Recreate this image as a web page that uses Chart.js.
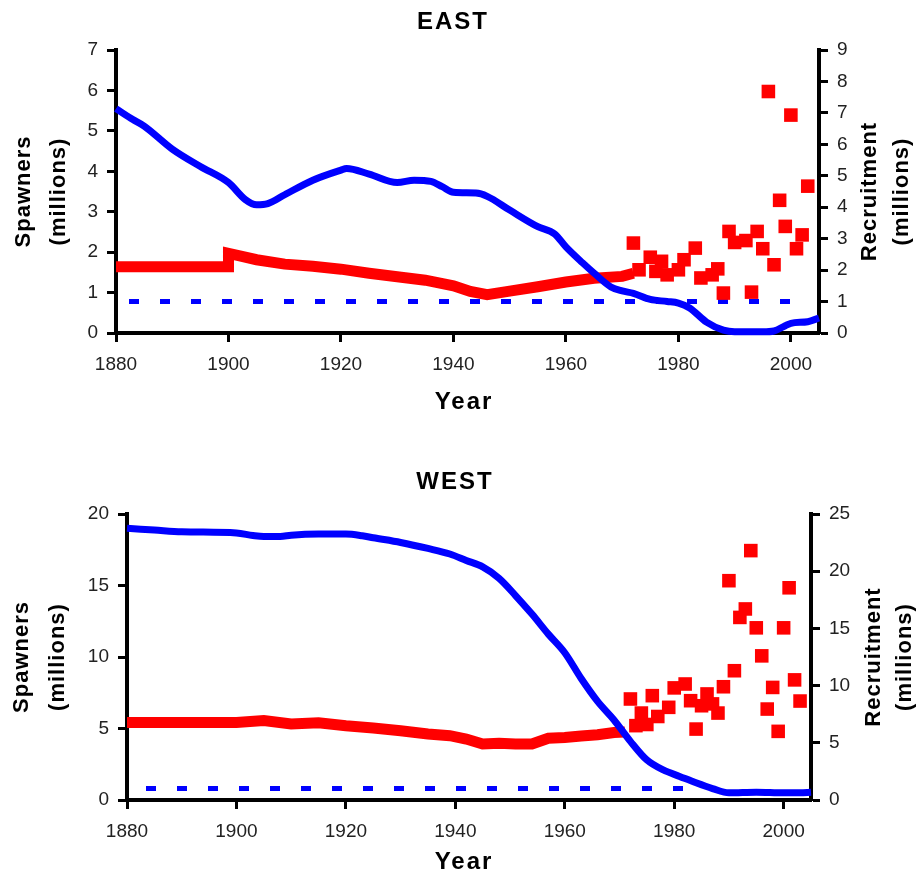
<!DOCTYPE html>
<html lang="en">
<head>
<meta charset="utf-8">
<title>EAST / WEST spawners and recruitment</title>
<style>
  body { margin: 0; background: #fff; }
  .box { position: absolute; left: 0; width: 917px; height: 440px; }
</style>
</head>
<body>
<div class="box" style="top:0"><canvas id="east" width="917" height="440"></canvas></div>
<div class="box" style="top:440px"><canvas id="west" width="917" height="440"></canvas></div>

<script src="https://cdn.jsdelivr.net/npm/chart.js"></script>
<script>
  // tick labels on the year axis
  const xTicks = [1880, 1900, 1920, 1940, 1960, 1980, 2000];

  // EAST - spawners (left axis)
  const eastSpawnYears = [1880, 1883, 1885, 1890, 1895, 1900, 1903, 1905, 1907, 1910, 1915, 1920, 1921, 1925, 1930,
    1933, 1936, 1938, 1940, 1944, 1946, 1950, 1955, 1958, 1960, 1963, 1965, 1968, 1970, 1972, 1975, 1978, 1980,
    1982, 1985, 1988, 1990, 1995, 1997, 1999, 2000, 2003, 2005];
  const eastSpawn = [5.55, 5.28, 5.12, 4.55, 4.12, 3.72, 3.3, 3.17, 3.2, 3.42, 3.78, 4.03, 4.07, 3.93, 3.72,
    3.78, 3.75, 3.62, 3.48, 3.46, 3.38, 3.04, 2.63, 2.45, 2.13, 1.73, 1.48, 1.14, 1.04, 0.98, 0.83, 0.78, 0.74,
    0.62, 0.27, 0.07, 0.03, 0.03, 0.05, 0.18, 0.24, 0.28, 0.37];

  // EAST - recruitment, reconstructed line (right axis)
  const eastRecLineYears = [1880, 1900, 1900, 1902, 1905, 1910, 1915, 1920, 1925, 1930, 1935, 1940, 1943, 1946,
    1950, 1955, 1960, 1965, 1970, 1972];
  const eastRecLine = [2.11, 2.11, 2.53, 2.45, 2.33, 2.19, 2.12, 2.03, 1.9, 1.79, 1.68, 1.5, 1.32, 1.22,
    1.33, 1.47, 1.62, 1.74, 1.8, 1.9];

  // EAST - recruitment, yearly points (right axis)
  const eastRecYears = [1972, 1973, 1975, 1976, 1977, 1978, 1980, 1981, 1983, 1984, 1986, 1987, 1988, 1989, 1990,
    1992, 1993, 1994, 1995, 1996, 1997, 1998, 1999, 2000, 2001, 2002, 2003];
  const eastRec = [2.86, 2.01, 2.41, 1.96, 2.28, 1.85, 2.01, 2.33, 2.7, 1.75, 1.85, 2.04, 1.27, 3.23, 2.88,
    2.94, 1.3, 3.23, 2.68, 7.68, 2.17, 4.22, 3.39, 6.93, 2.68, 3.12, 4.67];

  // EAST - reference level (right axis)
  const eastRefYears = [1880, 2000];
  const eastRef = [1, 1];

  // WEST - spawners (left axis)
  const westSpawnYears = [1880, 1885, 1890, 1900, 1903, 1905, 1908, 1910, 1915, 1920, 1923, 1925, 1930, 1935, 1939,
    1942, 1945, 1948, 1951, 1954, 1957, 1960, 1963, 1966, 1969, 1972, 1975, 1978, 1981, 1984, 1987, 1990,
    1995, 2000, 2003, 2005];
  const westSpawn = [19.0, 18.88, 18.76, 18.67, 18.5, 18.43, 18.43, 18.52, 18.6, 18.6, 18.48, 18.34, 18.01, 17.59, 17.2,
    16.75, 16.3, 15.5, 14.3, 13.0, 11.6, 10.3, 8.5, 6.9, 5.6, 4.1, 2.8, 2.1, 1.65, 1.2, 0.8, 0.5,
    0.55, 0.5, 0.5, 0.55];

  // WEST - recruitment, reconstructed line (right axis)
  const westRecLineYears = [1880, 1900, 1905, 1910, 1915, 1920, 1925, 1930, 1935, 1939, 1942, 1945, 1948, 1951,
    1954, 1957, 1960, 1963, 1966, 1969, 1971];
  const westRecLine = [6.78, 6.78, 6.95, 6.64, 6.75, 6.49, 6.29, 6.06, 5.77, 5.62, 5.33, 4.9, 4.95, 4.9,
    4.9, 5.4, 5.47, 5.6, 5.7, 5.9, 5.95];

  // WEST - recruitment, yearly points (right axis)
  const westRecYears = [1972, 1973, 1974, 1975, 1976, 1977, 1979, 1980, 1982, 1983, 1984, 1985, 1986, 1987, 1988,
    1989, 1990, 1991, 1992, 1993, 1994, 1995, 1996, 1997, 1998, 1999, 2000, 2001, 2002, 2003];
  const westRec = [8.83, 6.5, 7.6, 6.6, 9.12, 7.3, 8.1, 9.8, 10.14, 8.68, 6.2, 8.24, 9.27, 8.4, 7.6,
    9.9, 19.17, 11.3, 15.96, 16.7, 21.8, 15.05, 12.6, 7.95, 9.84, 6.0, 15.05, 18.55, 10.5, 8.65];

  // WEST - reference level (right axis)
  const westRefYears = [1880, 1982];
  const westRef = [1, 1];

  const FONT = '"Liberation Sans", Arial, sans-serif';
  const BLUE = '#0000ff';
  const RED = '#ff0000';
  const TICK_FONT = { family: FONT, size: 19 };

  const pts = (xs, ys) => xs.map((x, i) => ({ x: x, y: ys[i] }));

  function texts(o) {
    return {
      id: 'texts',
      afterDraw(chart) {
        const ctx = chart.ctx;
        ctx.save();
        ctx.fillStyle = '#000';
        ctx.textAlign = 'center';
        ctx.textBaseline = 'middle';
        ctx.letterSpacing = '2px';
        ctx.font = 'bold 24px ' + FONT;
        ctx.fillText(o.title, o.titleX, o.titleY);
        ctx.fillText('Year', o.yearX, o.yearY);
        ctx.letterSpacing = '1px';
        ctx.font = 'bold 22px ' + FONT;
        const up = (t, x, y) => {
          ctx.save();
          ctx.translate(x, y);
          ctx.rotate(-Math.PI / 2);
          ctx.fillText(t, 0, 0);
          ctx.restore();
        };
        const cy = (chart.chartArea.top + chart.chartArea.bottom) / 2;
        up('Spawners', o.l1, cy);
        up('(millions)', o.l2, cy);
        up('Recruitment', o.r1, cy);
        up('(millions)', o.r2, cy);
        ctx.restore();
      }
    };
  }

  function axis(extra) {
    return Object.assign({
      grid: { drawOnChartArea: false, tickLength: 9, tickWidth: 3, tickColor: '#000' },
      border: { color: '#000', width: 4 }
    }, extra);
  }

  function makeChart(id, o) {
    return new Chart(document.getElementById(id), {
      type: 'line',
      data: {
        datasets: [
          { data: pts(o.refYears, o.ref), yAxisID: 'yR', borderColor: BLUE, borderWidth: 5,
            borderDash: [10, 21], borderDashOffset: o.dashOffset, pointRadius: 0, order: 4, clip: false },
          { data: pts(o.recLineYears, o.recLine), yAxisID: 'yR', borderColor: RED, borderWidth: 11,
            pointRadius: 0, order: 3, clip: false },
          { data: pts(o.spawnYears, o.spawn), yAxisID: 'yL', borderColor: BLUE, borderWidth: 7,
            pointRadius: 0, cubicInterpolationMode: 'monotone', order: 2, clip: false },
          { data: pts(o.recYears, o.rec), yAxisID: 'yR', showLine: false, pointStyle: 'rect',
            pointRadius: 9.6, pointBackgroundColor: RED, pointBorderWidth: 0, order: 1, clip: false }
        ]
      },
      options: {
        responsive: false,
        animation: false,
        devicePixelRatio: 1,
        layout: { padding: { top: o.top, left: 0, right: 0, bottom: 0 } },
        plugins: { legend: { display: false }, tooltip: { enabled: false }, title: { display: false } },
        scales: {
          x: axis({
            type: 'linear', min: 1880, max: 2005,
            afterBuildTicks: s => { s.ticks = xTicks.map(v => ({ value: v })); },
            afterFit: s => { s.height = 440 - o.bottom; },
            ticks: { font: TICK_FONT, color: '#222', padding: 11, maxRotation: 0, autoSkip: false,
              callback: v => String(v) }
          }),
          yL: axis({
            position: 'left', min: 0, max: o.leftMax,
            afterFit: s => { s.width = o.left; },
            ticks: { font: TICK_FONT, color: '#222', padding: 9, stepSize: o.leftStep }
          }),
          yR: axis({
            position: 'right', min: 0, max: o.rightMax,
            afterFit: s => { s.width = 917 - o.right; },
            ticks: { font: TICK_FONT, color: '#222', padding: 9, stepSize: o.rightStep }
          })
        }
      },
      plugins: [texts(o)]
    });
  }

  makeChart('east', {
    spawnYears: eastSpawnYears, spawn: eastSpawn,
    recLineYears: eastRecLineYears, recLine: eastRecLine,
    recYears: eastRecYears, rec: eastRec,
    refYears: eastRefYears, ref: eastRef,
    leftMax: 7, leftStep: 1, rightMax: 9, rightStep: 1,
    left: 116, right: 819, top: 50, bottom: 333, dashOffset: 18,
    title: 'EAST', titleX: 453, titleY: 22, yearX: 464, yearY: 402,
    l1: 24, l2: 59, r1: 870, r2: 902
  });

  makeChart('west', {
    spawnYears: westSpawnYears, spawn: westSpawn,
    recLineYears: westRecLineYears, recLine: westRecLine,
    recYears: westRecYears, rec: westRec,
    refYears: westRefYears, ref: westRef,
    leftMax: 20, leftStep: 5, rightMax: 25, rightStep: 5,
    left: 127, right: 811, top: 74, bottom: 360, dashOffset: 12,
    title: 'WEST', titleX: 455, titleY: 42, yearX: 464, yearY: 422,
    l1: 22, l2: 58, r1: 874, r2: 905
  });
</script>
</body>
</html>
